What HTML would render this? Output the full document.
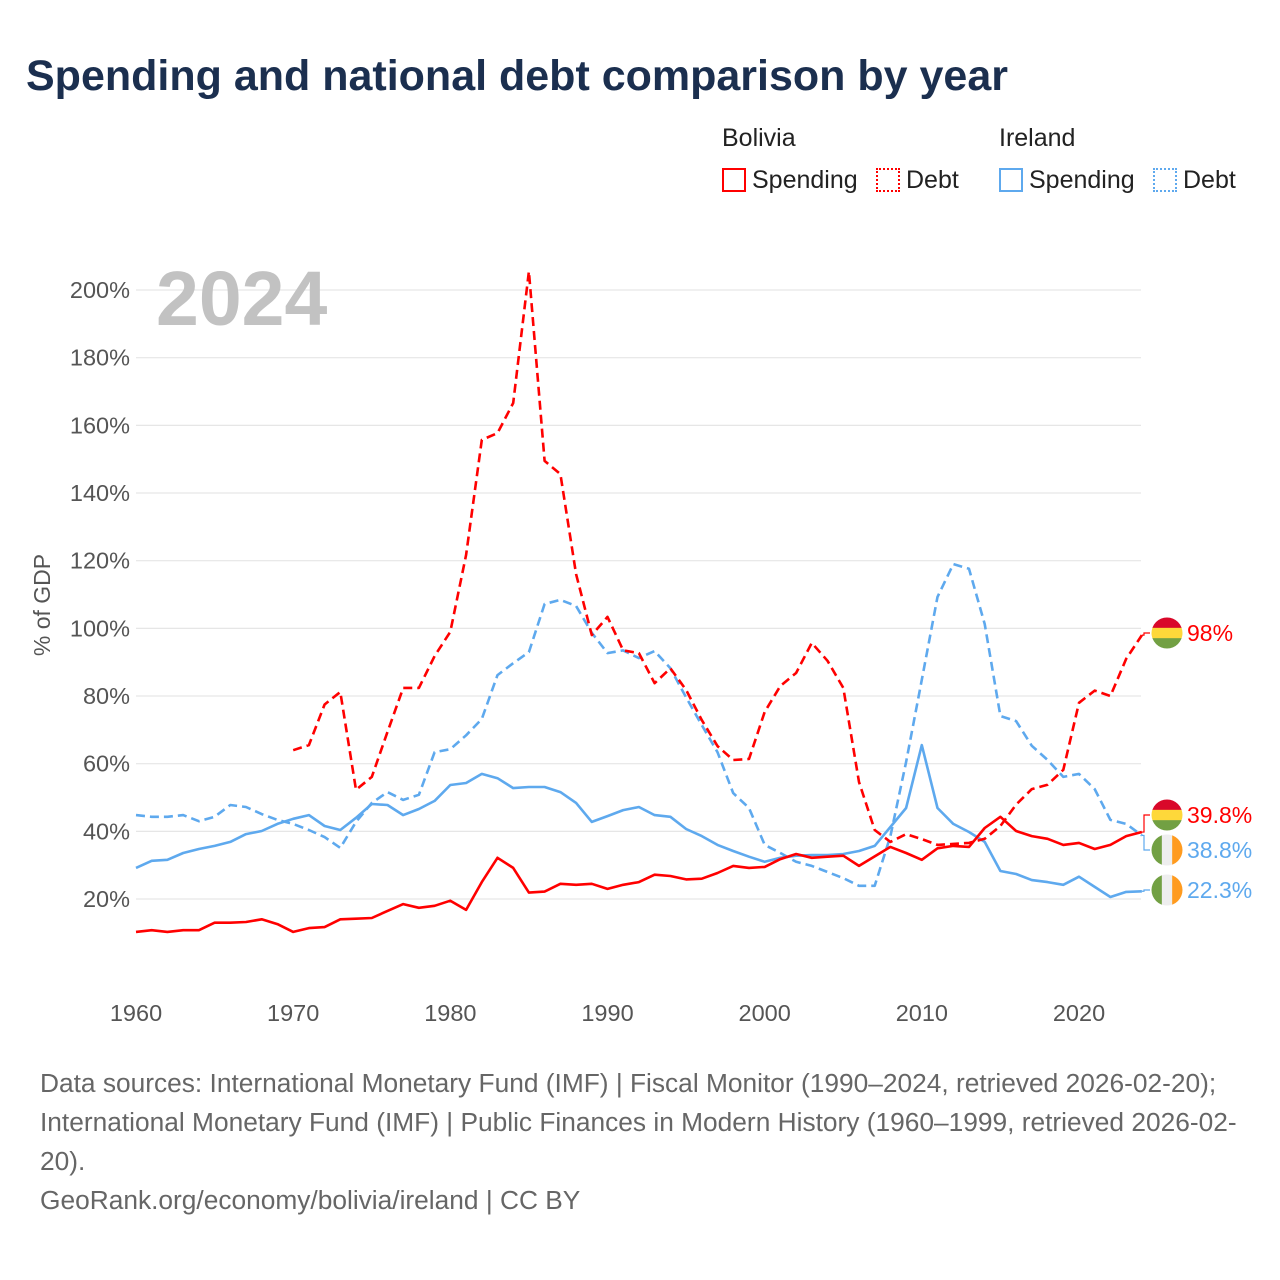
<!DOCTYPE html>
<html><head><meta charset="utf-8"><style>
body{margin:0;background:#fff;font-family:"Liberation Sans",sans-serif;}
#wrap{position:relative;width:1280px;height:1280px;overflow:hidden;}
.t{position:absolute;white-space:nowrap;}
</style></head><body>
<div id="wrap">
<div class="t" style="left:26px;top:52px;font-size:43px;font-weight:bold;color:#1b2f4f;">Spending and national debt comparison by year</div>
<div class="t" style="left:722px;top:124px;font-size:25px;color:#222;">Bolivia</div>
<div class="t" style="left:999px;top:124px;font-size:25px;color:#222;">Ireland</div>
<div class="t" style="left:722px;top:166px;font-size:25px;color:#222;"><span style="display:inline-block;width:24px;height:24px;border:2px solid #f00;box-sizing:border-box;vertical-align:-4px;margin-right:6px;"></span>Spending</div>
<div class="t" style="left:876px;top:166px;font-size:25px;color:#222;"><span style="display:inline-block;width:24px;height:24px;border:2px dotted #f00;box-sizing:border-box;vertical-align:-4px;margin-right:6px;"></span>Debt</div>
<div class="t" style="left:999px;top:166px;font-size:25px;color:#222;"><span style="display:inline-block;width:24px;height:24px;border:2px solid #5ea9ee;box-sizing:border-box;vertical-align:-4px;margin-right:6px;"></span>Spending</div>
<div class="t" style="left:1153px;top:166px;font-size:25px;color:#222;"><span style="display:inline-block;width:24px;height:24px;border:2px dotted #5ea9ee;box-sizing:border-box;vertical-align:-4px;margin-right:6px;"></span>Debt</div>
<svg id="chart" width="1280" height="1280" style="position:absolute;left:0;top:0;"></svg>
<div class="t" style="left:40px;top:1068px;font-size:26.3px;color:#666;">Data sources: International Monetary Fund (IMF) | Fiscal Monitor (1990–2024, retrieved 2026-02-20);</div>
<div class="t" style="left:40px;top:1107px;font-size:26.3px;color:#666;">International Monetary Fund (IMF) | Public Finances in Modern History (1960–1999, retrieved 2026-02-</div>
<div class="t" style="left:40px;top:1146px;font-size:26.3px;color:#666;">20).</div>
<div class="t" style="left:40px;top:1185px;font-size:26.3px;color:#666;">GeoRank.org/economy/bolivia/ireland | CC BY</div>
</div>
<script>
const yTicks=[20,40,60,80,100,120,140,160,180,200];
const xTicks=[1960,1970,1980,1990,2000,2010,2020];
const bolSpendStart=1960;
const bolSpend=[10.3,10.8,10.3,10.8,10.8,13,13,13.2,14,12.6,10.3,11.4,11.7,14,14.2,14.4,16.5,18.5,17.4,18,19.5,16.8,25,32.2,29.2,21.9,22.2,24.5,24.2,24.5,23,24.2,25,27.2,26.8,25.8,26,27.7,29.8,29.2,29.5,31.8,33.3,32.2,32.5,32.8,29.8,32.6,35.4,33.6,31.6,35,35.7,35.4,41,44.3,40.1,38.6,37.8,36,36.6,34.8,36,38.6,39.8];
const bolDebtStart=1970;
const bolDebt=[64,65.5,77.5,81.2,52.3,56.1,69.4,82.4,82.4,91.8,99,121.7,155.7,157.7,166.6,205.5,149.5,145.6,116,98,103.4,93.5,92.7,83.8,88.2,81.8,72.9,65.2,61.1,61.4,75.3,83,86.8,95.7,90.4,82.4,54.6,40.4,36.9,39.2,37.7,36,36.3,36.6,37.8,41.6,47.9,52.5,53.8,58.2,78,81.6,80,91,98];
const ireSpendStart=1960;
const ireSpend=[29.2,31.3,31.6,33.6,34.8,35.7,36.9,39.2,40.1,42.2,43.7,44.8,41.6,40.4,44,48.1,47.8,44.8,46.6,49,53.7,54.3,57,55.7,52.8,53.1,53.1,51.6,48.4,42.8,44.5,46.3,47.2,44.8,44.3,40.7,38.6,36,34.2,32.5,31,32.2,32.8,33,33,33.3,34.2,35.7,41.3,46.9,65.5,46.9,42.2,39.8,36.9,28.3,27.4,25.6,25,24.2,26.6,23.6,20.6,22.1,22.3];
const ireDebtStart=1960;
const ireDebt=[44.8,44.3,44.3,44.8,43,44.3,47.8,47.2,45.1,43.4,42.2,40.4,38.3,35.1,42.8,48.4,51.6,49.3,50.8,63.4,64.3,68.4,73.2,86.2,89.7,93,107.2,108.4,106.6,98.7,92.7,93.5,91.2,93.3,88.2,79.6,71.4,63.4,51.3,46.9,36,33.6,31,29.8,28,26.2,23.9,23.9,38.6,60.5,84.8,109.3,119,117.6,101.3,74.1,72.6,65.3,61.1,56.1,57,52.5,43.4,42.2,38.8];
const endLabels=["98%","39.8%","38.8%","22.3%"];

const svg=document.getElementById('chart');
const NS='http://www.w3.org/2000/svg';
const X=y=>136+(y-1960)*(1079-136)/60;
const Y=v=>966.7-v*(899-290)/180;
function mk(tag,attrs){const e=document.createElementNS(NS,tag);for(const k in attrs)e.setAttribute(k,attrs[k]);svg.appendChild(e);return e;}
yTicks.forEach(v=>{
  const l=mk('line',{x1:136,x2:1141,y1:Y(v),y2:Y(v),stroke:'#e6e6e6','stroke-width':1.2});
  
  
  const t=mk('text',{x:130,y:Y(v)+8,'text-anchor':'end','font-size':23.5,fill:'#555','font-family':'Liberation Sans, sans-serif'});
  t.textContent=v+'%';
  
  
});
xTicks.forEach(v=>{
  const t=mk('text',{x:X(v),y:1021,'text-anchor':'middle','font-size':23.5,fill:'#555','font-family':'Liberation Sans, sans-serif'});
  t.textContent=v;
  
  
});
const yt=mk('text',{x:0,y:0,transform:'translate(50,605) rotate(-90)','text-anchor':'middle','font-size':23,fill:'#555','font-family':'Liberation Sans, sans-serif'});
yt.textContent='% of GDP';


const yr=mk('text',{x:156,y:325,'font-size':77,'font-weight':'bold',fill:'#c2c2c2','font-family':'Liberation Sans, sans-serif'});
yr.textContent='2024';


function series(arr,start,color,dash,name){
  const d=arr.map((v,i)=>(i?'L':'M')+X(start+i).toFixed(1)+' '+Y(v).toFixed(1)).join(' ');
  const p=mk('path',{d:d,fill:'none',stroke:color,'stroke-width':2.6,'stroke-linejoin':'round'});
  if(dash)p.setAttribute('stroke-dasharray','9 5');
  
  
  return Y(arr[arr.length-1]);
}
const y1=series(ireDebt,ireDebtStart,'#5ea9ee',true,'ireland-debt-line');
const y2=series(ireSpend,ireSpendStart,'#5ea9ee',false,'ireland-spending-line');
const y3=series(bolDebt,bolDebtStart,'#f00',true,'bolivia-debt-line');
const y4=series(bolSpend,bolSpendStart,'#f00',false,'bolivia-spending-line');
const ends=[[y3,633,'#f00','bol'],[y4,815,'#f00','bol'],[y1,850,'#5ea9ee','ire'],[y2,890,'#5ea9ee','ire']];
ends.forEach((e,i)=>{
  const c=mk('path',{d:`M1142 ${e[0]} L1144 ${e[0]} L1144 ${e[1]} L1150 ${e[1]}`,fill:'none',stroke:e[2],'stroke-width':1.2});
  
  
  const g=document.createElementNS(NS,'g');svg.appendChild(g);
  
  
  const cx=1167,cy=e[1],r=15.5;
  const cols=e[3]==='bol'?['#d9082a','#fed83a','#72a043']:['#72a043','#eeeeee','#ff9b1f'];
  const clip='clip'+i;
  const w=2*r/3;
  g.innerHTML=`<clipPath id="${clip}"><circle cx="${cx}" cy="${cy}" r="${r}"/></clipPath>`+
   (e[3]==='bol'?cols.map((col,k)=>`<rect clip-path="url(#${clip})" x="${cx-r}" y="${cy-r+k*w}" width="${2*r}" height="${w+0.3}" fill="${col}"/>`).join('')
   :cols.map((col,k)=>`<rect clip-path="url(#${clip})" x="${cx-r+k*w}" y="${cy-r}" width="${w+0.3}" height="${2*r}" fill="${col}"/>`).join(''));
  const t=mk('text',{x:1187,y:e[1]+8,'font-size':23,fill:e[2],'font-family':'Liberation Sans, sans-serif'});
  t.textContent=endLabels[i];
  
  
});
</script>
</body></html>
